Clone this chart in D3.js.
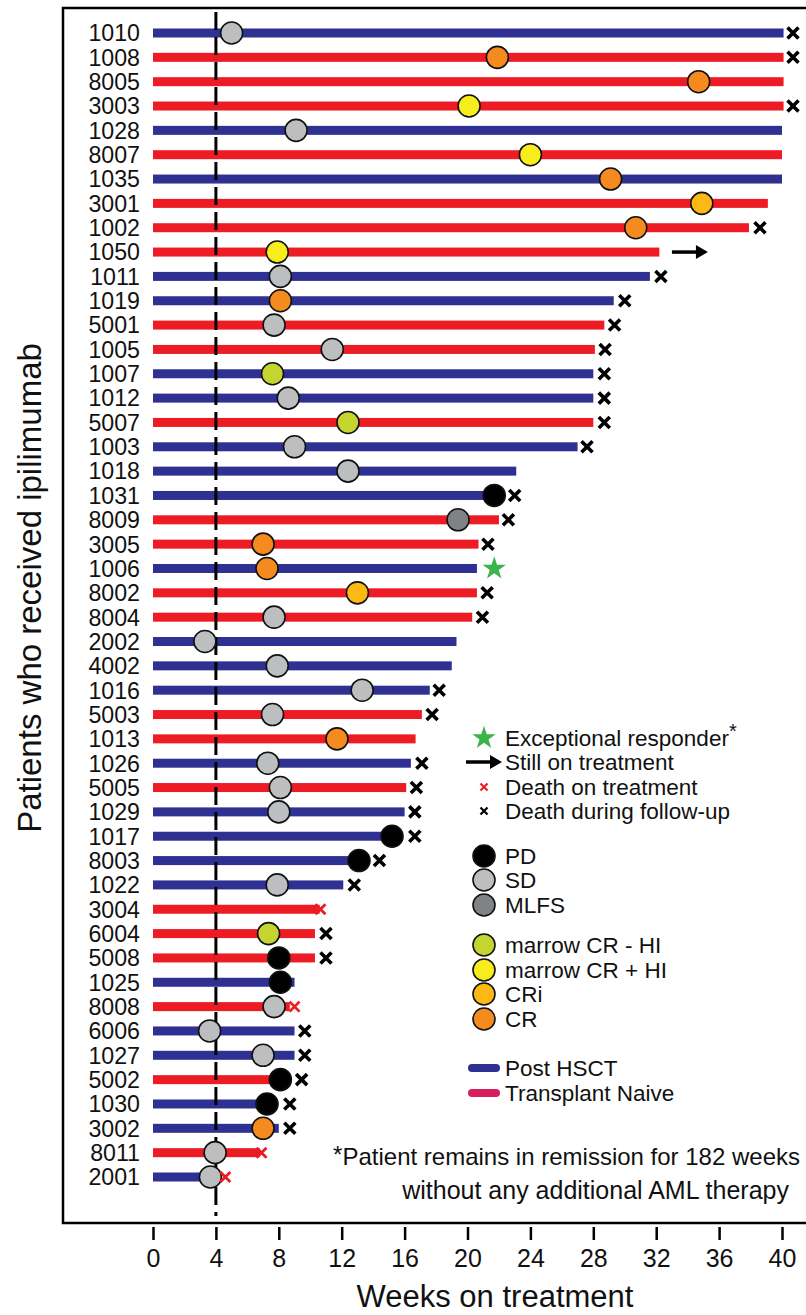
<!DOCTYPE html>
<html>
<head>
<meta charset="utf-8">
<script src="https://cdn.jsdelivr.net/npm/d3@7"></script>
<style>
  body { margin: 0; background: #fff; }
  text { font-family: "Liberation Sans", Arial, sans-serif; fill: #111; }
</style>
</head>
<body>
<svg id="swimmer" width="806" height="1315"></svg>
<script>
// patients top to bottom
const patients = ['1010', '1008', '8005', '3003', '1028', '8007', '1035', '3001', '1002', '1050',
  '1011', '1019', '5001', '1005', '1007', '1012', '5007', '1003', '1018', '1031',
  '8009', '3005', '1006', '8002', '8004', '2002', '4002', '1016', '5003', '1013',
  '1026', '5005', '1029', '1017', '8003', '1022', '3004', '6004', '5008', '1025',
  '8008', '6006', '1027', '5002', '1030', '3002', '8011', '2001'];

// H = Post HSCT, N = Transplant naive
const cohort = ['H', 'N', 'N', 'N', 'H', 'N', 'H', 'N', 'N', 'N',
  'H', 'H', 'N', 'N', 'H', 'H', 'N', 'H', 'H', 'H',
  'N', 'N', 'H', 'N', 'N', 'H', 'H', 'H', 'N', 'N',
  'H', 'N', 'H', 'H', 'H', 'H', 'N', 'N', 'N', 'H',
  'N', 'H', 'H', 'N', 'H', 'H', 'N', 'H'];

// weeks on treatment
const weeksOnTx = [40.1, 40.1, 40.1, 40.1, 40.0, 40.0, 40.0, 39.1, 37.9, 32.2,
  31.6, 29.3, 28.7, 28.1, 28.0, 28.0, 28.0, 27.0, 23.1, 21.8,
  22.0, 20.7, 20.6, 20.6, 20.3, 19.3, 19.0, 17.6, 17.1, 16.7,
  16.4, 16.1, 16.0, 15.3, 13.1, 12.1, 10.6, 10.3, 10.3, 9.0,
  8.7, 9.0, 9.0, 8.2, 7.4, 8.0, 6.8, 4.1];

// best response and when it was seen
const response = ['SD', 'CR', 'CR', 'mCR+HI', 'SD', 'mCR+HI', 'CR', 'CRi', 'CR', 'mCR+HI',
  'SD', 'CR', 'SD', 'SD', 'mCR-HI', 'SD', 'mCR-HI', 'SD', 'SD', 'PD',
  'MLFS', 'CR', 'CR', 'CRi', 'SD', 'SD', 'SD', 'SD', 'SD', 'CR',
  'SD', 'SD', 'SD', 'PD', 'PD', 'SD', null, 'mCR-HI', 'PD', 'PD',
  'SD', 'SD', 'SD', 'PD', 'PD', 'CR', 'SD', 'SD'];
const responseWeek = [5.0, 21.9, 34.7, 20.1, 9.1, 24.0, 29.1, 34.9, 30.7, 7.9,
  8.1, 8.1, 7.7, 11.4, 7.6, 8.6, 12.4, 9.0, 12.4, 21.7,
  19.4, 7.0, 7.25, 13.0, 7.7, 3.3, 7.9, 13.3, 7.6, 11.7,
  7.3, 8.1, 8.0, 15.2, 13.1, 7.9, null, 7.35, 8.0, 8.1,
  7.7, 3.6, 7.0, 8.1, 7.25, 7.0, 3.95, 3.65];

// fu = death during follow-up, tx = death on treatment, on = still on treatment, star = exceptional responder
const outcome = ['fu', 'fu', null, 'fu', null, null, null, null, 'fu', 'on',
  'fu', 'fu', 'fu', 'fu', 'fu', 'fu', 'fu', 'fu', null, 'fu',
  'fu', 'fu', 'star', 'fu', 'fu', null, null, 'fu', 'fu', null,
  'fu', 'fu', 'fu', 'fu', 'fu', 'fu', 'tx', 'fu', 'fu', null,
  'tx', 'fu', 'fu', 'fu', 'fu', 'fu', 'tx', 'tx'];
const outcomeWeek = [40.7, 40.7, null, 40.7, null, null, null, null, 38.6, 33.0,
  32.3, 30.0, 29.35, 28.75, 28.7, 28.7, 28.7, 27.6, null, 23.0,
  22.6, 21.3, 21.7, 21.25, 20.95, null, null, 18.2, 17.75, null,
  17.1, 16.75, 16.65, 16.65, 14.4, 12.8, 10.65, 11.0, 11.0, null,
  9.0, 9.65, 9.65, 9.45, 8.7, 8.7, 6.9, 4.6];

const weekTicks = [0, 4, 8, 12, 16, 20, 24, 28, 32, 36, 40];

const responseKeys = ['PD', 'SD', 'MLFS', 'mCR-HI', 'mCR+HI', 'CRi', 'CR'];
const responseLabels = ['PD', 'SD', 'MLFS', 'marrow CR - HI', 'marrow CR + HI', 'CRi', 'CR'];
const responseColors = ['#000000', '#bcbec0', '#808285', '#c5d52f', '#f7ec1c', '#fdb913', '#f58a1f'];

const cohortKeys = ['H', 'N'];
const cohortLabels = ['Post HSCT', 'Transplant Naive'];
const barColors = ['#2e3192', '#ed1c24'];
const legendLineColors = ['#2e3192', '#d81f5e'];

const rows = patients.map((p, i) => ({
  id: p,
  cohort: cohort[i],
  weeks: weeksOnTx[i],
  resp: response[i],
  respWeek: responseWeek[i],
  out: outcome[i],
  outWeek: outcomeWeek[i],
}));

const svg = d3.select('svg#swimmer');

const xScale = d3.scaleLinear().domain([0, 40]).range([153, 782]);
const yScale = d3.scalePoint().domain(patients).range([33, 1177]);
const barColor = d3.scaleOrdinal().domain(cohortKeys).range(barColors);
const respColor = d3.scaleOrdinal().domain(responseKeys).range(responseColors);

// frame (right side runs off the picture)
svg.append('path')
  .attr('d', 'M806,8 H63 V1223 H806')
  .attr('fill', 'none')
  .attr('stroke', '#000')
  .attr('stroke-width', 2.5);

// x axis
const xAxis = svg.append('g')
  .attr('transform', 'translate(0,1227)')
  .call(d3.axisBottom(xScale).tickValues(weekTicks).tickSize(13).tickPadding(9).tickSizeOuter(0));
xAxis.select('.domain').remove();
xAxis.selectAll('line').attr('stroke', '#000').attr('stroke-width', 2.5);
xAxis.selectAll('text')
  .attr('font-size', 25)
  .attr('font-family', '"Liberation Sans", Arial, sans-serif')
  .attr('fill', '#111');

svg.append('text')
  .attr('x', 495)
  .attr('y', 1307)
  .attr('text-anchor', 'middle')
  .attr('font-size', 31)
  .text('Weeks on treatment');

svg.append('text')
  .attr('transform', 'translate(41,588) rotate(-90)')
  .attr('text-anchor', 'middle')
  .attr('font-size', 33)
  .text('Patients who received ipilimumab');

// patient ids
svg.selectAll('text.pid')
  .data(rows)
  .enter()
  .append('text')
  .attr('class', 'pid')
  .attr('x', 140)
  .attr('y', (d) => yScale(d.id))
  .attr('dy', '0.36em')
  .attr('text-anchor', 'end')
  .attr('font-size', 23.2)
  .text((d) => d.id);

// bars
svg.selectAll('rect.bar')
  .data(rows)
  .enter()
  .append('rect')
  .attr('class', 'bar')
  .attr('x', xScale(0))
  .attr('y', (d) => yScale(d.id) - 4.5)
  .attr('width', (d) => xScale(d.weeks) - xScale(0))
  .attr('height', 9)
  .attr('fill', (d) => barColor(d.cohort));

// week 4 reference line
svg.append('line')
  .attr('x1', xScale(4))
  .attr('x2', xScale(4))
  .attr('y1', 12)
  .attr('y2', 1216)
  .attr('stroke', '#000')
  .attr('stroke-width', 3)
  .attr('stroke-dasharray', '18,7');

// responses
svg.selectAll('circle.resp')
  .data(rows.filter((d) => d.resp))
  .enter()
  .append('circle')
  .attr('class', 'resp')
  .attr('cx', (d) => xScale(d.respWeek))
  .attr('cy', (d) => yScale(d.id))
  .attr('r', 11)
  .attr('fill', (d) => respColor(d.resp))
  .attr('stroke', '#111')
  .attr('stroke-width', 1.6);

const crossPath = (s) => `M${-s},${-s}L${s},${s}M${-s},${s}L${s},${-s}`;

// deaths
svg.selectAll('path.death')
  .data(rows.filter((d) => d.out === 'fu' || d.out === 'tx'))
  .enter()
  .append('path')
  .attr('class', 'death')
  .attr('transform', (d) => `translate(${xScale(d.outWeek)},${yScale(d.id)})`)
  .attr('d', (d) => crossPath(d.out === 'fu' ? 5.5 : 5))
  .attr('fill', 'none')
  .attr('stroke', (d) => (d.out === 'fu' ? '#000' : '#ed1c24'))
  .attr('stroke-width', (d) => (d.out === 'fu' ? 3.6 : 2.8));

// still on treatment
const arrowPath = (len) => `M0,0H${len - 9}`;
const arrowHead = (len) => `M${len},0L${len - 12},-7L${len - 12},7Z`;
rows.filter((d) => d.out === 'on').forEach((d) => {
  const g = svg.append('g')
    .attr('transform', `translate(${xScale(d.outWeek)},${yScale(d.id)})`);
  g.append('path').attr('d', arrowPath(36)).attr('stroke', '#000').attr('stroke-width', 3.5);
  g.append('path').attr('d', arrowHead(36)).attr('fill', '#000');
});

// exceptional responder
svg.selectAll('path.star')
  .data(rows.filter((d) => d.out === 'star'))
  .enter()
  .append('path')
  .attr('class', 'star')
  .attr('transform', (d) => `translate(${xScale(d.outWeek)},${yScale(d.id)})`)
  .attr('d', d3.symbol(d3.symbolStar, 170))
  .attr('fill', '#39b54a');

// legend
const lx = 484;
const tx = 505;
const lg = svg.append('g').attr('font-size', 22.5);
const legendText = (y, t) => lg.append('text').attr('x', tx).attr('y', y).attr('dy', '0.36em').text(t);

lg.append('path')
  .attr('transform', `translate(${lx},738)`)
  .attr('d', d3.symbol(d3.symbolStar, 170))
  .attr('fill', '#39b54a');
const ex = legendText(738, 'Exceptional responder');
ex.append('tspan').attr('dy', -8).attr('font-size', 20).text('*');

const ag = lg.append('g').attr('transform', `translate(${lx - 18},762)`);
ag.append('path').attr('d', arrowPath(36)).attr('stroke', '#000').attr('stroke-width', 3.5);
ag.append('path').attr('d', arrowHead(36)).attr('fill', '#000');
legendText(762, 'Still on treatment');

lg.append('path')
  .attr('transform', `translate(${lx},787)`)
  .attr('d', crossPath(3.5))
  .attr('stroke', '#ed1c24')
  .attr('stroke-width', 2.2);
legendText(787, 'Death on treatment');

lg.append('path')
  .attr('transform', `translate(${lx},811)`)
  .attr('d', crossPath(3.5))
  .attr('stroke', '#000')
  .attr('stroke-width', 2.2);
legendText(811, 'Death during follow-up');

const respLegendY = [856, 880, 905, 945, 970, 994, 1019];
responseKeys.forEach((k, i) => {
  lg.append('circle')
    .attr('cx', lx)
    .attr('cy', respLegendY[i])
    .attr('r', 11)
    .attr('fill', respColor(k))
    .attr('stroke', '#111')
    .attr('stroke-width', 1.6);
  legendText(respLegendY[i], responseLabels[i]);
});

const cohortLegendY = [1068, 1093];
cohortKeys.forEach((k, i) => {
  lg.append('line')
    .attr('x1', lx - 12)
    .attr('x2', lx + 12)
    .attr('y1', cohortLegendY[i])
    .attr('y2', cohortLegendY[i])
    .attr('stroke', legendLineColors[i])
    .attr('stroke-width', 8)
    .attr('stroke-linecap', 'round');
  legendText(cohortLegendY[i], cohortLabels[i]);
});

// footnote
const fn = svg.append('g').attr('font-size', 24).attr('text-anchor', 'end');
const f1 = fn.append('text').attr('x', 800).attr('y', 1165).attr('dy', '0.36em');
f1.append('tspan').attr('dy', '-0.1em').text('*');
f1.append('tspan').attr('dy', '0.1em').text('Patient remains in remission for 182 weeks');
fn.append('text').attr('x', 789).attr('y', 1190).attr('dy', '0.36em').attr('font-size', 25)
  .text('without any additional AML therapy');
</script>
</body>
</html>
